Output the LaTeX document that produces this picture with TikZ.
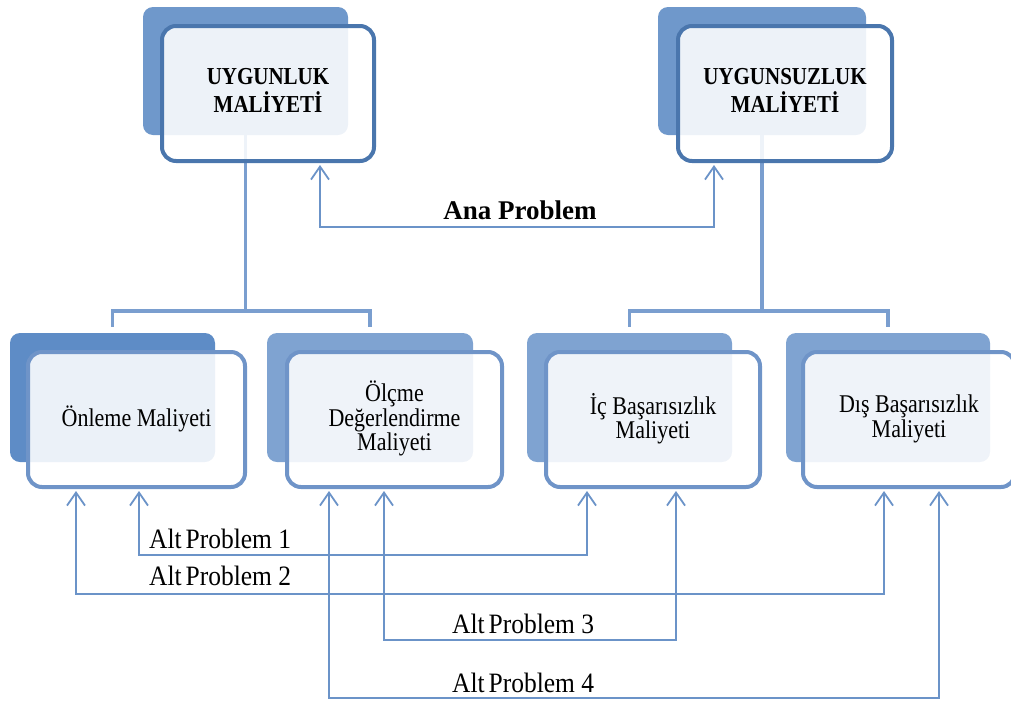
\documentclass[tikz,border=0pt]{standalone}
\usepackage{fontspec}
\setmainfont{Liberation Serif}
\usetikzlibrary{arrows.meta}
\definecolor{backTop}{HTML}{6F98CB}
\definecolor{backDeep}{HTML}{5E8CC6}
\definecolor{backLow}{HTML}{7FA3D1}
\definecolor{rimTop}{HTML}{4A76AD}
\definecolor{rimLow}{HTML}{6F94C8}
\definecolor{treeC}{HTML}{7A9ECF}
\definecolor{arrC}{HTML}{6B93C8}
% slightly tall lettering
\newcommand{\talltext}[2][1.16]{\scalebox{1}[#1]{\begin{tabular}{@{}c@{}}#2\end{tabular}}}

\begin{document}
\begin{tikzpicture}[x=1pt,y=-1pt,
  backbox/.style={fill=#1, draw=none, rounded corners=10pt, inner sep=0pt},
  frontbox/.style={draw=#1, line width=4pt, fill=white, fill opacity=0.88,
    text opacity=1, rounded corners=14pt, inner sep=0pt, align=center},
  toptext/.style={font=\fontsize{21}{20}\selectfont\bfseries},
  lowtext/.style={font=\fontsize{22}{19.5}\selectfont},
  tree/.style={draw=treeC, line width=3.5pt},
  link/.style={draw=arrC, line width=1.8pt,
    {Straight Barb[length=13pt,width=18pt]}-{Straight Barb[length=13pt,width=18pt]}},
  altlabel/.style={font=\fontsize{25.5}{26}\selectfont, inner sep=0pt, anchor=west},
]
\useasboundingbox (0,0) rectangle (1011,702);

% junction points of the two trees
\coordinate (jL) at (245.5,311);
\coordinate (jR) at (762,311);

% back panels
\node[backbox=backTop, minimum width=205pt, minimum height=128pt] (ub) at (245.5,71) {};
\node[backbox=backTop, minimum width=208pt, minimum height=128pt] (vb) at (762,71) {};
\node[backbox=backDeep, minimum width=205pt, minimum height=129pt] (b1) at (112.5,397.5) {};
\node[backbox=backLow, minimum width=206pt, minimum height=129pt] (b2) at (370,397.5) {};
\node[backbox=backLow, minimum width=205pt, minimum height=129pt] (b3) at (629.5,397.5) {};
\node[backbox=backLow, minimum width=204pt, minimum height=129pt] (b4) at (888,397.5) {};

% tree lines
\draw[tree] (ub.south) -- (jL);
\draw[tree] ([yshift=6pt]b1.north) -- (b1.north |- jL) -- (b2.north |- jL) -- ([yshift=6pt]b2.north);
\draw[tree] (vb.south) -- (jR);
\draw[tree] ([yshift=6pt]b3.north) -- (b3.north |- jR) -- (b4.north |- jR) -- ([yshift=6pt]b4.north);

% front panels
\node[frontbox=rimTop, toptext, minimum width=212pt, minimum height=135pt] (uf) at (268,93.5)
  {\talltext{UYGUNLUK\\MALİYETİ}};
\node[frontbox=rimTop, toptext, minimum width=214pt, minimum height=135pt] (vf) at (785,93.5)
  {\talltext{UYGUNSUZLUK\\MALİYETİ}};
\node[frontbox=rimLow, lowtext, minimum width=217pt, minimum height=135pt] (f1) at (136.5,419.5)
  {\talltext{Önleme Maliyeti}};
\node[frontbox=rimLow, lowtext, minimum width=215pt, minimum height=135pt] (f2) at (394.5,419.5)
  {\talltext{Ölçme\\Değerlendirme\\Maliyeti}};
\node[frontbox=rimLow, lowtext, minimum width=214pt, minimum height=135pt] (f3) at (653,419.5)
  {\talltext{İç Başarısızlık\\Maliyeti}};
\node[frontbox=rimLow, lowtext, minimum width=212pt, minimum height=135pt] (f4) at (909,419.5)
  {\talltext{Dış Başarısızlık\\Maliyeti}};

% bends of the problem links
\coordinate (a0) at (320,227);  \coordinate (a1) at (714,227);
\coordinate (p1) at (139,555);  \coordinate (q1) at (587,555);
\coordinate (p2) at (76,594);   \coordinate (q2) at (884,594);
\coordinate (p3) at (384,640);  \coordinate (q3) at (676,640);
\coordinate (p4) at (329,698);  \coordinate (q4) at (939,698);

\draw[link] ([yshift=-2pt]a0 |- uf.south) -- (a0) -- (a1) -- ([yshift=-2pt]a1 |- vf.south);
\draw[link] ([yshift=-2pt]p1 |- f1.south) -- (p1) -- (q1) -- ([yshift=-2pt]q1 |- f3.south);
\draw[link] ([yshift=-2pt]p2 |- f1.south) -- (p2) -- (q2) -- ([yshift=-2pt]q2 |- f4.south);
\draw[link] ([yshift=-2pt]p3 |- f2.south) -- (p3) -- (q3) -- ([yshift=-2pt]q3 |- f3.south);
\draw[link] ([yshift=-2pt]p4 |- f2.south) -- (p4) -- (q4) -- ([yshift=-2pt]q4 |- f4.south);

% labels
\node[font=\fontsize{27}{29}\selectfont\bfseries, inner sep=0pt] (ana) at (520,210) {Ana Problem};
\node[altlabel] (l1) at (149,543) {\talltext[1.1]{Alt\hspace{0.15em}Problem 1}};
\node[altlabel] (l2) at (149,580) {\talltext[1.1]{Alt\hspace{0.15em}Problem 2}};
\node[altlabel] (l3) at (452,628) {\talltext[1.1]{Alt\hspace{0.15em}Problem 3}};
\node[altlabel] (l4) at (452,687) {\talltext[1.1]{Alt\hspace{0.15em}Problem 4}};
\end{tikzpicture}
\end{document}
